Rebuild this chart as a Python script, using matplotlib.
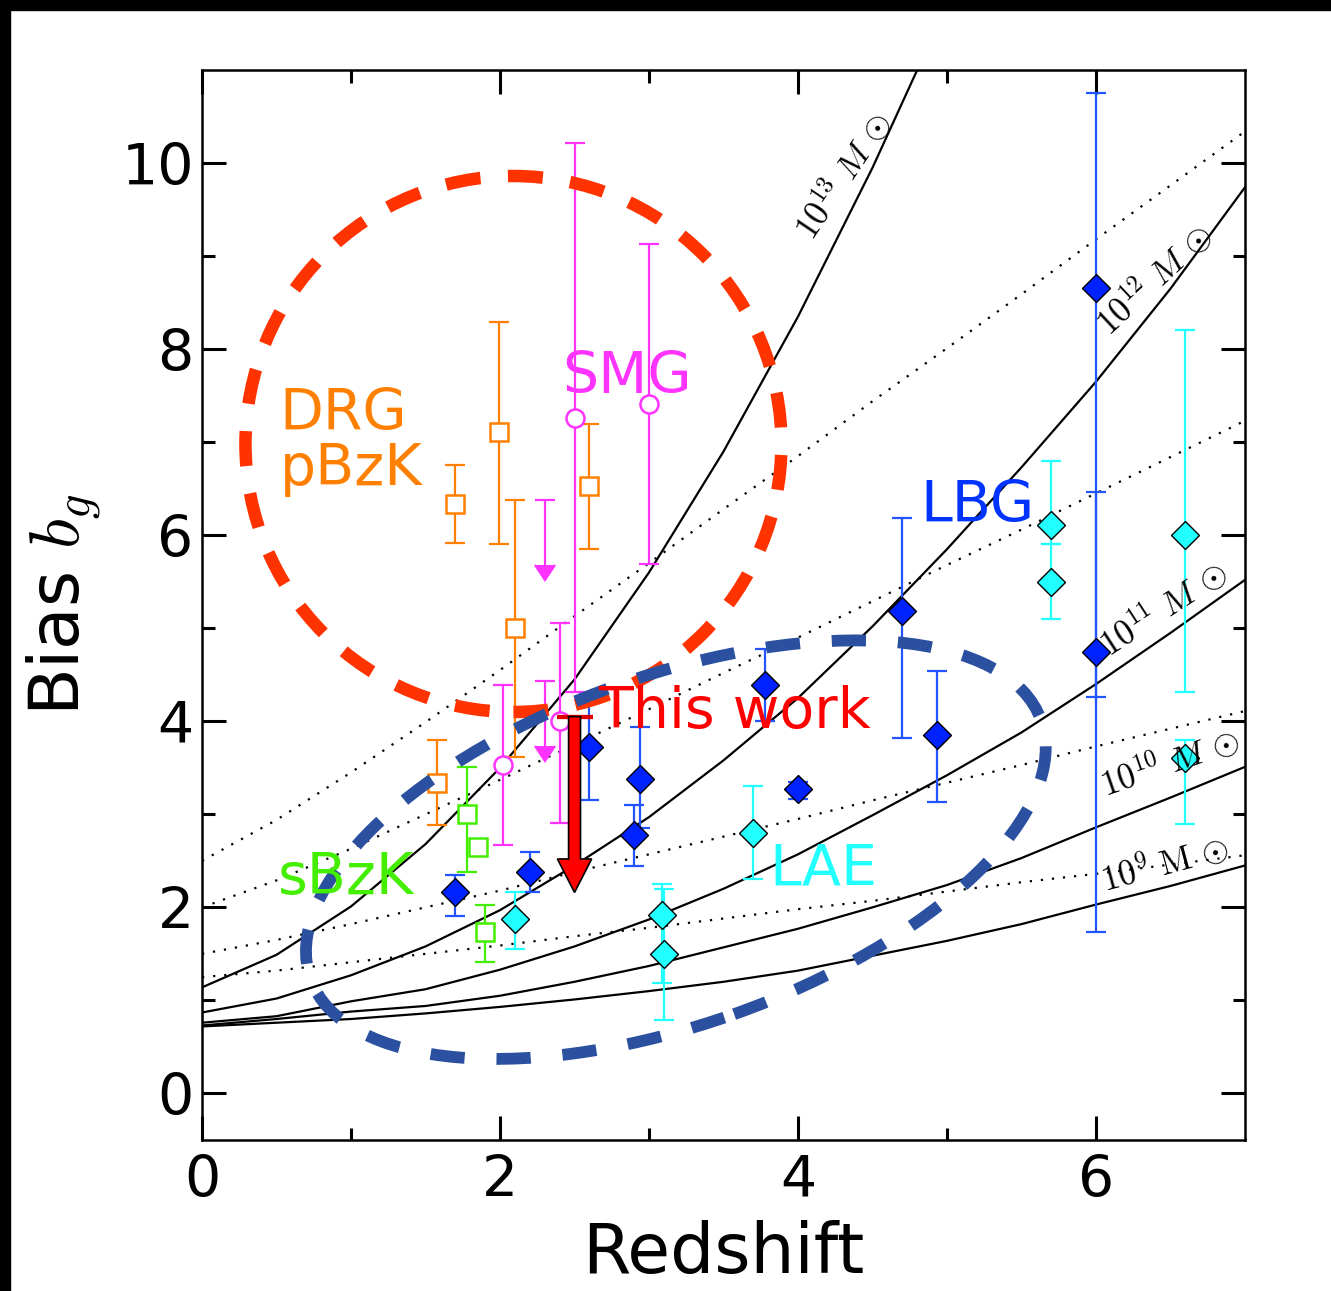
import numpy as np
import matplotlib
matplotlib.use("Agg")
import matplotlib.pyplot as plt
from matplotlib.patches import Ellipse, Rectangle
from matplotlib.transforms import ScaledTranslation

plt.rcParams['mathtext.fontset'] = 'cm'

# ---------------- halo bias tracks (solid) ----------------
z_grid = [0, 0.5, 1, 1.5, 2, 2.5, 3, 3.5, 4, 4.5, 5, 5.5, 6, 6.5, 7]
b_m13 = [1.14, 1.49, 2.01, 2.68, 3.50, 4.45, 5.60, 6.90, 8.35, 9.95, 11.7]
b_m12 = [0.87, 1.02, 1.27, 1.58, 1.97, 2.45, 2.97, 3.58, 4.25, 5.02, 5.85, 6.73, 7.65, 8.65, 9.74]
b_m11 = [0.76, 0.83, 0.99, 1.12, 1.33, 1.58, 1.87, 2.20, 2.57, 2.99, 3.42, 3.88, 4.40, 4.95, 5.52]
b_m10 = [0.73, 0.80, 0.88, 0.94, 1.05, 1.20, 1.37, 1.57, 1.77, 2.00, 2.24, 2.53, 2.86, 3.18, 3.51]
b_m9 = [0.72, 0.76, 0.80, 0.86, 0.93, 1.01, 1.10, 1.20, 1.32, 1.48, 1.64, 1.82, 2.03, 2.23, 2.45]

# ---------------- passive evolution tracks (dotted) ----------------
b_pe25 = [2.50, 2.94, 3.45, 3.99, 4.55, 5.13, 5.70, 6.28, 6.85, 7.44, 8.01, 8.59, 9.18, 9.76, 10.34]
b_pe20 = [2.00, 2.29, 2.63, 3.00, 3.37, 3.75, 4.13, 4.52, 4.90, 5.29, 5.68, 6.06, 6.45, 6.84, 7.23]
b_pe15 = [1.50, 1.65, 1.82, 2.00, 2.18, 2.38, 2.57, 2.76, 2.95, 3.15, 3.34, 3.53, 3.73, 3.92, 4.11]
b_pe125 = [1.25, 1.32, 1.41, 1.50, 1.59, 1.69, 1.78, 1.88, 1.98, 2.07, 2.17, 2.27, 2.36, 2.46, 2.56]

# ---------------- measurements ----------------
drg_z = [1.70, 1.99, 2.10, 2.60, 1.58]
drg_b = [6.33, 7.11, 5.00, 6.53, 3.34]
drg_lo = [5.92, 5.91, 3.62, 5.85, 2.88]
drg_hi = [6.75, 8.29, 6.38, 7.20, 3.80]

smg_z = [2.50, 3.00, 2.02, 2.40]
smg_b = [7.26, 7.41, 3.53, 4.00]
smg_lo = [4.31, 5.69, 2.67, 2.91]
smg_hi = [10.21, 9.13, 4.39, 5.06]
smg_ul_z = [2.30, 2.30]
smg_ul_b = [6.38, 4.43]
smg_ul_len = [0.70, 0.70]

sbzk_z = [1.78, 1.85, 1.90]
sbzk_b = [3.00, 2.65, 1.73]
sbzk_lo = [2.38, np.nan, 1.41]
sbzk_hi = [3.51, np.nan, 2.02]

lbg_z = [1.70, 2.20, 2.60, 2.94, 2.90, 3.78, 4.00, 4.70, 4.93, 6.00, 6.00]
lbg_b = [2.16, 2.38, 3.72, 3.38, 2.78, 4.39, 3.27, 5.18, 3.85, 8.66, 4.74]
lbg_lo = [1.91, 2.16, 3.15, 2.85, 2.44, 4.00, 3.16, 3.82, 3.13, 1.73, 4.26]
lbg_hi = [2.35, 2.60, 4.29, 3.94, 3.10, 4.78, 3.35, 6.19, 4.54, 10.75, 6.46]

lae_z = [2.10, 3.09, 3.10, 3.70, 5.70, 5.70, 6.60, 6.60]
lae_b = [1.87, 1.92, 1.50, 2.80, 6.11, 5.50, 6.00, 3.61]
lae_lo = [1.55, 1.19, 0.79, 2.30, 5.90, 5.10, 4.31, 2.90]
lae_hi = [2.16, 2.25, 2.20, 3.30, 6.80, 5.90, 8.21, 3.80]

# this work: upper limit
tw_z = 2.50
tw_b = 4.05
tw_end = 2.16

# ---------------- figure ----------------
fig = plt.figure(figsize=(13.31, 12.91), dpi=100)
ax = fig.add_axes([0.1518, 0.1170, 0.7836, 0.8288])

# black strips along top and left edge
fig.patches.append(Rectangle((0, 1 - 10 / 1291), 1, 10 / 1291, transform=fig.transFigure,
                             color='black', zorder=-10))
fig.patches.append(Rectangle((0, 0), 10 / 1331, 1, transform=fig.transFigure,
                             color='black', zorder=-10))

# model curves
for vals in [b_m13, b_m12, b_m11, b_m10, b_m9]:
    ax.plot(z_grid[:len(vals)], vals, color='black', lw=1.6, zorder=2)
for vals in [b_pe25, b_pe20, b_pe15, b_pe125]:
    ax.plot(z_grid, vals, color='black', lw=1.6, ls=(0, (1, 4)), zorder=2)


def eb(z, b, lo, hi, color, marker, mfc, mec, ms, z0=4):
    z = np.array(z)
    b = np.array(b)
    err = [b - np.array(lo), np.array(hi) - b]
    ax.errorbar(z, b, yerr=err, fmt='none', ecolor=color, elinewidth=1.6,
                capsize=7, capthick=1.6, zorder=z0)
    ax.plot(z, b, ls='none', marker=marker, ms=ms, mfc=mfc, mec=mec,
            mew=1.8 if mfc == 'white' else 1.0, zorder=z0 + 1)


eb(drg_z, drg_b, drg_lo, drg_hi, '#FF8000', 's', 'white', '#FF8000', 13)
eb(smg_z, smg_b, smg_lo, smg_hi, '#FF33FF', 'o', 'white', '#FF33FF', 13)
eb(sbzk_z, sbzk_b, sbzk_lo, sbzk_hi, '#44EE00', 's', 'white', '#44EE00', 13)
eb(lbg_z, lbg_b, lbg_lo, lbg_hi, '#2255FF', 'D', '#0022FF', 'black', 14)
eb(lae_z, lae_b, lae_lo, lae_hi, '#22FFFF', 'D', '#22FFFF', 'black', 14)

ul = ax.errorbar(smg_ul_z, smg_ul_b, yerr=smg_ul_len, uplims=True, fmt='none',
                 ecolor='#FF33FF', elinewidth=1.6, capsize=7, capthick=1.6, zorder=4)
for c in ul[1]:
    c.set_color('#FF33FF')
    c.set_markerfacecolor('#FF33FF')
    c.set_markeredgecolor('#FF33FF')

# this work
ax.errorbar([tw_z], [tw_b], yerr=0, fmt='none', ecolor='#DD0000', capsize=13,
            capthick=3, zorder=6)
ax.arrow(tw_z, tw_b, 0, tw_end - tw_b, width=0.08, head_width=0.23,
         head_length=0.36, length_includes_head=True, fc='red', ec='black',
         lw=1.2, zorder=6)

# highlighted regions
red_trans = fig.dpi_scale_trans + ScaledTranslation(2.09, 6.98, ax.transData)
ax.add_patch(Ellipse((0, 0), 5.36, 5.36, transform=red_trans, fill=False,
                     ec='#FF3300', lw=9, ls=(0, (2.8, 2.2)), zorder=7))
blue_trans = fig.dpi_scale_trans + ScaledTranslation(3.18, 2.62, ax.transData)
ax.add_patch(Ellipse((0, 0), 7.75, 3.49, angle=19.5, transform=blue_trans, fill=False,
                     ec='#2C50A0', lw=8.5, ls=(0, (2.9, 2.7)), zorder=7))

# population labels
fs = 41
ax.text(0.52, 7.13, 'DRG', color='#FF8000', fontsize=fs, zorder=8)
ax.text(0.52, 6.54, 'pBzK', color='#FF8000', fontsize=fs, zorder=8)
ax.text(2.42, 7.53, 'SMG', color='#FF33FF', fontsize=fs, zorder=8)
ax.text(4.82, 6.14, 'LBG', color='#0033FF', fontsize=fs, zorder=8)
ax.text(2.66, 3.93, 'This work', color='#FF0000', fontsize=fs, zorder=8)
ax.text(3.81, 2.24, 'LAE', color='#22FFFF', fontsize=fs, zorder=8)
ax.text(0.51, 2.14, 'sBzK', color='#44EE00', fontsize=fs, zorder=8)

# halo mass labels
mass_text = [r'$10^{13}\ M\,\odot$', r'$10^{12}\ M\,\odot$', r'$10^{11}\ M\,\odot$',
             r'$10^{10}\ M\,\odot$', r'$10^{9}\ \mathrm{M}\,\odot$']
mass_z = [4.10, 6.09, 6.09, 6.06, 6.06]
mass_b = [9.15, 8.13, 4.68, 3.18, 2.16]
mass_rot = [56, 43, 33, 19, 15]
for t, mz, mb, r in zip(mass_text, mass_z, mass_b, mass_rot):
    ax.text(mz, mb, t, fontsize=25, rotation=r, rotation_mode='anchor',
            ha='left', va='baseline', zorder=8)

ax.set_xlim(0, 7)
ax.set_ylim(-0.5, 11)
ax.set_xticks([0, 2, 4, 6])
ax.set_xticks([1, 3, 5], minor=True)
ax.set_yticks([0, 2, 4, 6, 8, 10])
ax.set_yticks([1, 3, 5, 7, 9], minor=True)
ax.tick_params(which='both', direction='in', top=True, right=True, width=2.2,
               labelsize=41, pad=10)
ax.tick_params(axis='y', which='both', pad=6)
ax.tick_params(which='major', length=17)
ax.tick_params(which='minor', length=9)
for s in ax.spines.values():
    s.set_linewidth(1.8)

ax.set_xlabel('Redshift', fontsize=50, labelpad=8)
ax.set_ylabel(r'Bias $b_g$', fontsize=50, labelpad=12)

fig.savefig('out.png', dpi=100)
